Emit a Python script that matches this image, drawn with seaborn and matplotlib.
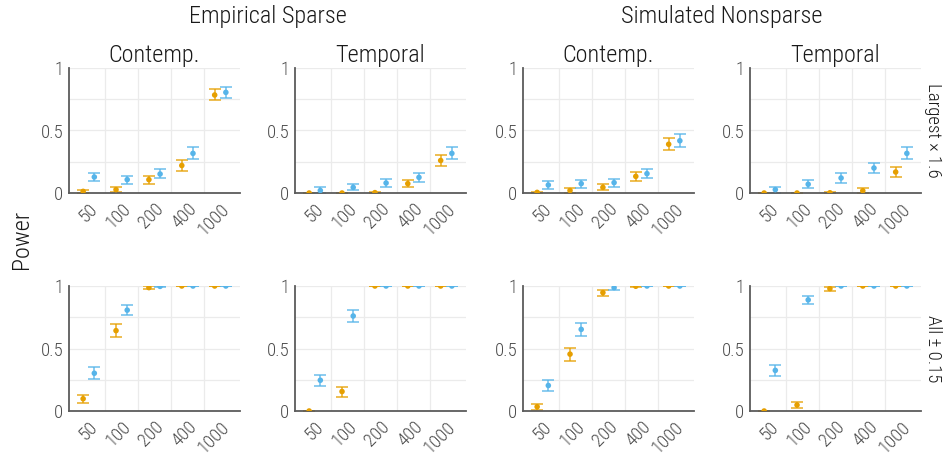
import matplotlib
matplotlib.use("Agg")
import matplotlib.pyplot as plt
from matplotlib import font_manager
import numpy as np
import pandas as pd
import seaborn as sns

# Sample sizes on the x axis
sample_sizes = ["50", "100", "200", "400", "1000"]
methods = ["A", "B"]
palette = {"A": "#E69F00", "B": "#56B4E9"}

dataset_labels = ["Empirical Sparse", "Simulated Nonsparse"]
effect_labels = ["Contemp.", "Temporal"]
row_labels = ["Largest \u00d7 1.6", "All \u00b1 0.15"]
y_ticks = [0, 0.5, 1]
y_ticklabels = ["0", "0.5", "1"]

# Power estimates and half-widths of their intervals
# Row 1: largest effect x 1.6
emp_con_large_a = [0.013, 0.027, 0.107, 0.22, 0.784]
emp_con_large_b = [0.128, 0.107, 0.152, 0.317, 0.805]
emp_con_large_a_err = [0.010, 0.020, 0.032, 0.044, 0.044]
emp_con_large_b_err = [0.033, 0.032, 0.036, 0.049, 0.043]

emp_tem_large_a = [0.0, 0.0, 0.003, 0.075, 0.26]
emp_tem_large_b = [0.02, 0.045, 0.08, 0.125, 0.317]
emp_tem_large_a_err = [0.0, 0.0, 0.003, 0.030, 0.045]
emp_tem_large_b_err = [0.024, 0.023, 0.033, 0.036, 0.049]

sim_con_large_a = [0.005, 0.02, 0.045, 0.133, 0.39]
sim_con_large_b = [0.064, 0.075, 0.083, 0.155, 0.418]
sim_con_large_a_err = [0.005, 0.020, 0.025, 0.036, 0.050]
sim_con_large_b_err = [0.030, 0.032, 0.032, 0.037, 0.052]

sim_tem_large_a = [0.0, 0.0, 0.002, 0.018, 0.168]
sim_tem_large_b = [0.027, 0.07, 0.12, 0.2, 0.317]
sim_tem_large_a_err = [0.0, 0.0, 0.002, 0.018, 0.039]
sim_tem_large_b_err = [0.024, 0.030, 0.037, 0.043, 0.049]

# Row 2: all effects +/- 0.15
emp_con_all_a = [0.098, 0.643, 0.987, 1.0, 1.0]
emp_con_all_b = [0.302, 0.807, 0.997, 1.0, 1.0]
emp_con_all_a_err = [0.033, 0.050, 0.012, 0.0, 0.0]
emp_con_all_b_err = [0.049, 0.042, 0.005, 0.0, 0.0]

emp_tem_all_a = [0.0, 0.156, 1.0, 1.0, 1.0]
emp_tem_all_b = [0.246, 0.76, 1.0, 1.0, 1.0]
emp_tem_all_a_err = [0.0, 0.040, 0.0, 0.0, 0.0]
emp_tem_all_b_err = [0.046, 0.045, 0.0, 0.0, 0.0]

sim_con_all_a = [0.034, 0.455, 0.947, 0.998, 1.0]
sim_con_all_b = [0.204, 0.653, 0.987, 1.0, 1.0]
sim_con_all_a_err = [0.024, 0.052, 0.025, 0.002, 0.0]
sim_con_all_b_err = [0.042, 0.050, 0.018, 0.0, 0.0]

sim_tem_all_a = [0.0, 0.048, 0.979, 1.0, 1.0]
sim_tem_all_b = [0.325, 0.889, 1.0, 1.0, 1.0]
sim_tem_all_a_err = [0.0, 0.021, 0.016, 0.0, 0.0]
sim_tem_all_b_err = [0.046, 0.035, 0.0, 0.0, 0.0]

panels = [
    [(emp_con_large_a, emp_con_large_a_err, emp_con_large_b, emp_con_large_b_err),
     (emp_tem_large_a, emp_tem_large_a_err, emp_tem_large_b, emp_tem_large_b_err),
     (sim_con_large_a, sim_con_large_a_err, sim_con_large_b, sim_con_large_b_err),
     (sim_tem_large_a, sim_tem_large_a_err, sim_tem_large_b, sim_tem_large_b_err)],
    [(emp_con_all_a, emp_con_all_a_err, emp_con_all_b, emp_con_all_b_err),
     (emp_tem_all_a, emp_tem_all_a_err, emp_tem_all_b, emp_tem_all_b_err),
     (sim_con_all_a, sim_con_all_a_err, sim_con_all_b, sim_con_all_b_err),
     (sim_tem_all_a, sim_tem_all_a_err, sim_tem_all_b, sim_tem_all_b_err)],
]

sns.set_theme(style="white")

# prefer a narrow typeface when one is installed
installed = {f.name for f in font_manager.fontManager.ttflist}
narrow = [n for n in ["Roboto Condensed", "Liberation Sans Narrow",
                      "Open Sans Condensed", "DejaVu Sans Condensed"]
          if n in installed]
FONT = narrow + ["Roboto", "DejaVu Sans"]
WEIGHT = "light"
plt.rcParams["font.family"] = FONT
plt.rcParams["font.weight"] = WEIGHT

W, H = 950, 461
fig = plt.figure(figsize=(W / 100, H / 100), dpi=100)

col_left = [69, 295, 523, 750]
panel_w = 171
row_top = [68, 286]
panel_h = 125
dodge = 0.17
text_dark = "#1a1a1a"
tick_grey = "#4d4d4d"
grid_col = "#ebebeb"
spine_col = "#5c5c5c"
tick_fs = 13.5
title_fs = 17.5

for r in range(2):
    for c in range(4):
        ax = fig.add_axes([col_left[c] / W, 1 - (row_top[r] + panel_h) / H,
                           panel_w / W, panel_h / H])
        a_vals, a_err, b_vals, b_err = panels[r][c]
        idx = np.arange(len(sample_sizes))
        df = pd.DataFrame({
            "x": np.concatenate([idx - dodge, idx + dodge]),
            "power": a_vals + b_vals,
            "err": a_err + b_err,
            "method": ["A"] * len(a_vals) + ["B"] * len(b_vals),
        })
        # grid
        for gx in idx[:-1] + 0.5:
            ax.axvline(gx, color=grid_col, lw=0.9, zorder=0)
        for gy in [0.25, 0.5, 0.75, 1.0]:
            ax.axhline(gy, color=grid_col, lw=0.9, zorder=0)
        # interval bars
        for m in methods:
            sub = df[df["method"] == m]
            ax.errorbar(sub["x"], sub["power"], yerr=sub["err"], fmt="none",
                        ecolor=palette[m], alpha=0.8, elinewidth=1.2,
                        capsize=4.6, capthick=1.2, zorder=2)
        sns.scatterplot(data=df, x="x", y="power", hue="method", palette=palette,
                        s=16, linewidth=0, legend=False, ax=ax, zorder=3)
        ax.set_xlim(-0.6, 4.6)
        ax.set_ylim(0, 1)
        ax.set_xlabel("")
        ax.set_ylabel("")
        ax.set_xticks(idx)
        ax.set_xticklabels(sample_sizes, rotation=45, ha="right", va="top",
                           rotation_mode="anchor", color=tick_grey,
                           fontsize=tick_fs, fontweight=WEIGHT)
        ax.set_yticks(y_ticks)
        ax.set_yticklabels(y_ticklabels, color=tick_grey, fontsize=tick_fs,
                           fontweight=WEIGHT)
        ax.tick_params(axis="both", length=0, pad=4)
        ax.tick_params(axis="x", pad=5)
        for s in ["top", "right"]:
            ax.spines[s].set_visible(False)
        for s in ["left", "bottom"]:
            ax.spines[s].set_color(spine_col)
            ax.spines[s].set_linewidth(1.3)
        ax.set_facecolor("white")
        if r == 0:
            ax.set_title(effect_labels[c % 2], fontsize=title_fs, color=text_dark,
                         pad=4, fontweight=WEIGHT)
        if c == 3:
            ax.text(1.07, 0.5, row_labels[r], transform=ax.transAxes,
                    rotation=270, ha="center", va="center",
                    fontsize=tick_fs, color=text_dark, fontweight=WEIGHT)

# dataset headers across column pairs
fig.text((69 + 466) / 2 / W, 1 - 17 / H, dataset_labels[0], ha="center",
         va="center", fontsize=title_fs, color=text_dark, fontweight=WEIGHT)
fig.text((523 + 920) / 2 / W, 1 - 17 / H, dataset_labels[1], ha="center",
         va="center", fontsize=title_fs, color=text_dark, fontweight=WEIGHT)
fig.text(21 / W, 1 - 239 / H, "Power", rotation=90, ha="center", va="center",
         fontsize=title_fs, color=text_dark, fontweight=WEIGHT)

fig.savefig("out.png", dpi=100, facecolor="white")
